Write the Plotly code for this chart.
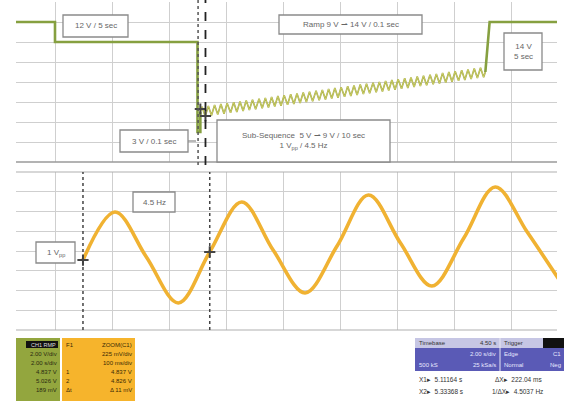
import plotly.graph_objects as go

W, H = 564, 401

# ---------------- data ----------------
# Upper panel: sequence on CH1, time in s, voltage in V
level_t = [-1.4, 0.0, 0.0, 5.0, 5.0, 5.1, 5.1]
level_v = [14, 14, 12, 12, 3, 3, 5]

zig_peak_t = [5.16, 5.38, 5.60, 5.82, 6.04, 6.27, 6.49, 6.71, 6.93, 7.16, 7.38, 7.60, 7.82, 8.04, 8.27,
              8.49, 8.71, 8.93, 9.16, 9.38, 9.60, 9.82, 10.04, 10.27, 10.49, 10.71, 10.93, 11.16, 11.38,
              11.60, 11.82, 12.04, 12.27, 12.49, 12.71, 12.93, 13.16, 13.38, 13.60, 13.82, 14.04, 14.27,
              14.49, 14.71, 14.93]
zig_peak_v = [5.52, 5.61, 5.70, 5.79, 5.88, 5.97, 6.06, 6.14, 6.23, 6.32, 6.41, 6.50, 6.59, 6.68, 6.77,
              6.86, 6.94, 7.03, 7.12, 7.21, 7.30, 7.39, 7.48, 7.57, 7.66, 7.74, 7.83, 7.92, 8.01, 8.10,
              8.19, 8.28, 8.37, 8.46, 8.54, 8.63, 8.72, 8.81, 8.90, 8.99, 9.08, 9.17, 9.26, 9.35, 9.43]
zig_trough_t = [5.27, 5.49, 5.71, 5.93, 6.16, 6.38, 6.60, 6.82, 7.04, 7.27, 7.49, 7.71, 7.93, 8.16, 8.38,
                8.60, 8.82, 9.04, 9.27, 9.49, 9.71, 9.93, 10.16, 10.38, 10.60, 10.82, 11.04, 11.27, 11.49,
                11.71, 11.93, 12.16, 12.38, 12.60, 12.82, 13.04, 13.27, 13.49, 13.71, 13.93, 14.16, 14.38,
                14.60, 14.82, 15.04]
zig_trough_v = [4.57, 4.66, 4.74, 4.83, 4.92, 5.01, 5.10, 5.19, 5.28, 5.37, 5.46, 5.54, 5.63, 5.72, 5.81,
                5.90, 5.99, 6.08, 6.17, 6.26, 6.34, 6.43, 6.52, 6.61, 6.70, 6.79, 6.88, 6.97, 7.06, 7.14,
                7.23, 7.32, 7.41, 7.50, 7.59, 7.68, 7.77, 7.86, 7.94, 8.03, 8.12, 8.21, 8.30, 8.39, 8.48]
tail_t = [15.1, 15.25, 17.8]
tail_v = [9, 14, 14]

# Lower panel: zoomed 4.5 Hz sine, time in s, voltage (relative) in V
sine_t = [0.049, 0.105, 0.160, 0.216, 0.271, 0.327, 0.382, 0.438, 0.494, 0.549, 0.605,
          0.660, 0.716, 0.771, 0.827, 0.882]
sine_v = [-0.103, 0.444, -0.068, -0.592, -0.011, 0.558, 0.011, -0.478, 0.057, 0.638, 0.091,
          -0.399, 0.148, 0.729, 0.216, -0.319]

cursor_up = [5.02, 5.28]
cursor_lo = [0.049, 0.271]

# ---------------- build traces ----------------
seq_t = list(level_t)
seq_v = list(level_v)
for pt, pv, tt, tv in zip(zig_peak_t, zig_peak_v, zig_trough_t, zig_trough_v):
    seq_t += [pt, tt]
    seq_v += [pv, tv]
seq_t += tail_t
seq_v += tail_v

n_lvl = len(level_t)
n_zig = 2 * len(zig_peak_t)

fig = go.Figure()
fig.add_trace(go.Scatter(x=seq_t[:n_lvl], y=seq_v[:n_lvl], mode="lines",
                         line=dict(color="#86a040", width=2.6), xaxis="x", yaxis="y",
                         showlegend=False, hoverinfo="skip"))
fig.add_trace(go.Scatter(x=seq_t[n_lvl - 1:n_lvl + n_zig + 1], y=seq_v[n_lvl - 1:n_lvl + n_zig + 1],
                         mode="lines", line=dict(color="#9aa23c", width=1.6), xaxis="x", yaxis="y",
                         showlegend=False, hoverinfo="skip"))
fig.add_trace(go.Scatter(x=seq_t[n_lvl - 1:n_lvl + n_zig + 1], y=seq_v[n_lvl - 1:n_lvl + n_zig + 1],
                         mode="lines", line=dict(color="#e6e47c", width=0.6), xaxis="x", yaxis="y",
                         showlegend=False, hoverinfo="skip"))
fig.add_trace(go.Scatter(x=seq_t[n_lvl + n_zig:], y=seq_v[n_lvl + n_zig:], mode="lines",
                         line=dict(color="#86a040", width=2.6), xaxis="x", yaxis="y",
                         showlegend=False, hoverinfo="skip"))

fig.add_trace(go.Scatter(x=sine_t, y=sine_v, mode="lines", line=dict(color="#f0b232", width=3.6,
                         shape="spline", smoothing=1.0), xaxis="x2", yaxis="y2",
                         showlegend=False, hoverinfo="skip"))

# cursor markers
fig.add_trace(go.Scatter(x=[5.1, 5.28], y=[5.3, 4.6], mode="markers",
                         marker=dict(symbol="cross-thin", size=8, line=dict(color="#444", width=2)),
                         xaxis="x", yaxis="y", showlegend=False, hoverinfo="skip"))
fig.add_trace(go.Scatter(x=[cursor_lo[0], cursor_lo[1]], y=[sine_v[0], sine_v[4]], mode="markers",
                         marker=dict(symbol="cross-thin", size=8, line=dict(color="#444", width=2)),
                         xaxis="x2", yaxis="y2", showlegend=False, hoverinfo="skip"))

# ---------------- layout ----------------
def X(px):
    return px / W

def Y(py):
    return 1 - py / H

grid = "#cfcfcf"
common = dict(showticklabels=False, ticks="", zeroline=False, showgrid=True, gridcolor=grid,
              gridwidth=1, fixedrange=True)

x_dom = [X(16), X(557)]
fig.update_layout(
    width=W, height=H, margin=dict(l=0, r=0, t=0, b=0),
    paper_bgcolor="white", plot_bgcolor="white",
    font=dict(family="Liberation Sans, Arial, sans-serif", size=8, color="#555"),
    xaxis=dict(domain=x_dom, range=[-39 / 28.5, 502 / 28.5], tick0=0, dtick=2, anchor="y", **common),
    yaxis=dict(domain=[Y(162), Y(2)], range=[0, 16], tick0=0, dtick=2, anchor="x", **common),
    xaxis2=dict(domain=x_dom, range=[-39 / 571.0, 502 / 571.0], tick0=0, dtick=0.1, anchor="y2",
                **common),
    yaxis2=dict(domain=[Y(330), Y(172)], range=[-0.9, 0.9], tick0=0, dtick=0.225, anchor="x2", **common),
)

shapes = []
annotations = []

# panel borders
shapes.append(dict(type="line", xref="paper", yref="paper", x0=X(16), x1=X(557), y0=Y(162), y1=Y(162),
                   line=dict(color="#9a9a9a", width=1.5)))
shapes.append(dict(type="line", xref="paper", yref="paper", x0=X(16), x1=X(557), y0=Y(172), y1=Y(172),
                   line=dict(color="#b0b0b0", width=1.2)))
shapes.append(dict(type="line", xref="paper", yref="paper", x0=X(16), x1=X(557), y0=Y(330), y1=Y(330),
                   line=dict(color="#b0b0b0", width=1.2)))

# cursors
shapes.append(dict(type="line", xref="x", yref="paper", x0=cursor_up[0], x1=cursor_up[0], y0=Y(165), y1=Y(0),
                   line=dict(color="#555", width=1.5, dash="dot"), layer="above"))
shapes.append(dict(type="line", xref="x", yref="paper", x0=cursor_up[1], x1=cursor_up[1], y0=Y(165), y1=Y(0),
                   line=dict(color="#222", width=1.8, dash="dash"), layer="above"))
for c in cursor_lo:
    shapes.append(dict(type="line", xref="x2", yref="paper", x0=c, x1=c, y0=Y(330), y1=Y(172),
                       line=dict(color="#444", width=1.5, dash="dot")))


def box(x0, y0, x1, y1, text, size=8):
    shapes.append(dict(type="rect", xref="paper", yref="paper", x0=X(x0), x1=X(x1), y0=Y(y1), y1=Y(y0),
                       fillcolor="white", line=dict(color="#8a8a8a", width=1.3), layer="above"))
    annotations.append(dict(xref="paper", yref="paper", x=X((x0 + x1) / 2), y=Y((y0 + y1) / 2),
                            text=text, showarrow=False, font=dict(size=size, color="#666"),
                            xanchor="center", yanchor="middle"))


box(63, 15, 128, 37, "12 V / 5 sec")
box(279, 15, 422, 34, "Ramp 9 V \u21c0 14 V / 0.1 sec")
box(504, 33, 542, 70, "14 V<br>5 sec")
box(120, 130, 188, 152, "3 V / 0.1 sec")
shapes.append(dict(type="line", xref="paper", yref="paper", x0=X(188), x1=X(196), y0=Y(141), y1=Y(141),
                   line=dict(color="#8a8a8a", width=1.2)))
box(217, 120, 390, 162, "Sub-Sequence  5 V \u21c0 9 V / 10 sec<br>1 V<sub>pp</sub> / 4.5 Hz")
box(133, 192, 175, 212, "4.5 Hz")
box(36, 242, 75, 263, "1 V<sub>pp</sub>")


def rect(x0, y0, x1, y1, color):
    shapes.append(dict(type="rect", xref="paper", yref="paper", x0=X(x0), x1=X(x1), y0=Y(y1), y1=Y(y0),
                       fillcolor=color, line=dict(width=0), layer="above"))


def txt(x, y, text, anchor="left", size=6, color="#222"):
    annotations.append(dict(xref="paper", yref="paper", x=X(x), y=Y(y), text=text, showarrow=False,
                            xanchor=anchor, yanchor="middle", font=dict(size=size, color=color),
                            borderpad=0))


# bottom-left readouts
rect(16, 338, 60, 401, "#93a63e")
rect(26, 341, 58, 348, "#111")
rect(62, 338, 135, 401, "#f6b42c")
txt(57, 344.5, "CH1 RMP", "right", 5.5, "#ddd")
for i, s in enumerate(["2.00 V/div", "2.00 s/div", "4.837 V", "5.026 V", "189 mV"]):
    txt(58, 354 + 9 * i, s, "right", 6, "#2a2a10")
for i, s in enumerate(["ZOOM(C1)", "225 mV/div", "100 ms/div", "4.837 V", "4.826 V", "\u0394 11 mV"]):
    txt(133, 344.5 + 9 * i, s, "right", 6, "#3a2a05")
for yy, s in [(344.5, "F1"), (371.5, "1"), (380.5, "2"), (389.5, "\u0394t")]:
    txt(65, yy, s, "left", 6, "#3a2a05")

# bottom-right readouts
rect(415, 338, 543, 348, "#c6c6e4")
rect(543, 338, 564, 348, "#111")
rect(415, 348, 564, 371, "#5a5ab6")
shapes.append(dict(type="line", xref="paper", yref="paper", x0=X(500), x1=X(500), y0=Y(371), y1=Y(338),
                   line=dict(color="#e8e8f4", width=1)))
txt(418, 343, "Timebase", "left", 6, "#333")
txt(497, 343, "4.50 s", "right", 6, "#333")
txt(503, 343, "Trigger", "left", 6, "#333")
txt(497, 354, "2.00 s/div", "right", 6, "#e8e8ff")
txt(418, 365, "500 kS", "left", 6, "#e8e8ff")
txt(497, 365, "25 kSa/s", "right", 6, "#e8e8ff")
txt(503, 354, "Edge", "left", 6, "#e8e8ff")
txt(562, 354, "C1", "right", 6, "#e8e8ff")
txt(503, 365, "Normal", "left", 6, "#e8e8ff")
txt(562, 365, "Neg", "right", 6, "#e8e8ff")
txt(418, 379, "X1\u25b8  5.11164 s", "left", 6.5, "#333")
txt(494, 379, "\u0394X\u25b8  222.04 ms", "left", 6.5, "#333")
txt(418, 391, "X2\u25b8  5.33368 s", "left", 6.5, "#333")
txt(491, 391, "1/\u0394X\u25b8  4.5037 Hz", "left", 6.5, "#333")

fig.update_layout(shapes=shapes, annotations=annotations)
fig.write_html("out.html", config={"displayModeBar": False},
               post_script="document.body.style.margin='0';document.body.style.padding='0';")
